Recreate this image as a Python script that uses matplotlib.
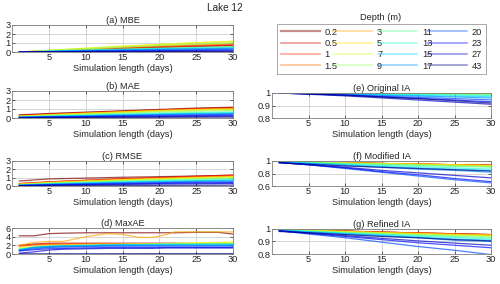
import numpy as np
import matplotlib
matplotlib.use('Agg')
import matplotlib.pyplot as plt
from matplotlib.lines import Line2D

plt.rcParams['font.family'] = ['Liberation Sans', 'DejaVu Sans']
plt.rcParams['font.size'] = 6.7

depths = ['0.2', '0.5', '1', '1.5', '3', '5', '7', '9',
          '11', '13', '15', '17', '20', '23', '27', '43']

days = [1, 5, 10, 15, 20, 25, 30]
days_max = [1, 3, 5, 7, 10, 13, 15, 17, 19, 21, 22, 25, 28, 30]

mbe = [
    [0.0, 0.10, 0.25, 0.40, 0.50, 0.60, 0.70],
    [0.0, 0.10, 0.25, 0.40, 0.55, 0.65, 0.75],
    [0.0, 0.12, 0.28, 0.45, 0.60, 0.70, 0.80],
    [0.0, 0.13, 0.30, 0.50, 0.65, 0.78, 0.90],
    [0.0, 0.15, 0.35, 0.55, 0.72, 0.88, 1.00],
    [0.0, 0.18, 0.42, 0.65, 0.85, 1.05, 1.20],
    [0.0, 0.18, 0.40, 0.62, 0.82, 1.00, 1.15],
    [0.0, 0.15, 0.35, 0.55, 0.72, 0.88, 1.00],
    [0.0, 0.10, 0.22, 0.33, 0.43, 0.52, 0.60],
    [0.0, 0.08, 0.18, 0.28, 0.37, 0.44, 0.50],
    [0.0, 0.07, 0.16, 0.25, 0.33, 0.40, 0.45],
    [0.0, 0.06, 0.14, 0.22, 0.29, 0.35, 0.40],
    [0.0, 0.05, 0.10, 0.16, 0.21, 0.26, 0.30],
    [0.0, 0.03, 0.07, 0.10, 0.14, 0.17, 0.20],
    [0.0, 0.02, 0.04, 0.05, 0.07, 0.09, 0.10],
    [0.0, 0.01, 0.02, 0.03, 0.04, 0.04, 0.05],
]

mae = [
    [0.35, 0.50, 0.65, 0.80, 0.95, 1.10, 1.20],
    [0.30, 0.45, 0.60, 0.75, 0.90, 1.05, 1.15],
    [0.25, 0.40, 0.57, 0.72, 0.87, 1.00, 1.10],
    [0.22, 0.38, 0.55, 0.70, 0.85, 0.97, 1.05],
    [0.20, 0.35, 0.52, 0.67, 0.82, 0.93, 1.00],
    [0.20, 0.35, 0.52, 0.67, 0.82, 0.93, 1.00],
    [0.18, 0.32, 0.48, 0.62, 0.76, 0.87, 0.95],
    [0.15, 0.28, 0.42, 0.55, 0.67, 0.77, 0.85],
    [0.12, 0.22, 0.34, 0.45, 0.55, 0.63, 0.70],
    [0.10, 0.19, 0.29, 0.38, 0.47, 0.54, 0.60],
    [0.10, 0.17, 0.26, 0.35, 0.43, 0.50, 0.55],
    [0.08, 0.15, 0.23, 0.31, 0.38, 0.45, 0.50],
    [0.06, 0.12, 0.18, 0.25, 0.31, 0.36, 0.40],
    [0.05, 0.09, 0.14, 0.19, 0.23, 0.27, 0.30],
    [0.03, 0.06, 0.09, 0.12, 0.15, 0.18, 0.20],
    [0.02, 0.03, 0.05, 0.06, 0.08, 0.09, 0.10],
]

rmse = [
    [0.60, 0.85, 0.95, 1.05, 1.12, 1.20, 1.30],
    [0.30, 0.50, 0.70, 0.88, 1.02, 1.17, 1.30],
    [0.28, 0.48, 0.67, 0.85, 0.98, 1.12, 1.25],
    [0.25, 0.45, 0.64, 0.81, 0.95, 1.08, 1.20],
    [0.22, 0.42, 0.60, 0.77, 0.90, 1.03, 1.15],
    [0.20, 0.40, 0.58, 0.74, 0.87, 0.99, 1.10],
    [0.18, 0.37, 0.55, 0.70, 0.83, 0.95, 1.05],
    [0.15, 0.33, 0.49, 0.63, 0.75, 0.86, 0.95],
    [0.13, 0.29, 0.43, 0.56, 0.67, 0.77, 0.85],
    [0.12, 0.26, 0.38, 0.50, 0.60, 0.68, 0.75],
    [0.10, 0.23, 0.35, 0.46, 0.55, 0.63, 0.70],
    [0.08, 0.20, 0.30, 0.40, 0.48, 0.55, 0.60],
    [0.07, 0.16, 0.25, 0.33, 0.40, 0.46, 0.50],
    [0.05, 0.12, 0.20, 0.26, 0.32, 0.37, 0.40],
    [0.04, 0.09, 0.14, 0.19, 0.24, 0.27, 0.30],
    [0.02, 0.03, 0.05, 0.06, 0.08, 0.09, 0.10],
]

maxae = [
    [4.2, 4.2, 4.7, 4.8, 4.9, 4.9, 4.9, 4.9, 4.9, 4.9, 4.9, 5.0, 5.0, 4.6],
    [2.0, 2.3, 2.5, 2.5, 2.5, 2.5, 2.5, 2.5, 2.5, 2.5, 2.5, 2.4, 2.4, 2.4],
    [1.9, 2.2, 2.3, 2.3, 2.4, 2.4, 2.3, 2.3, 2.3, 2.3, 2.3, 2.3, 2.3, 2.3],
    [1.8, 2.1, 2.2, 2.2, 2.3, 2.3, 2.3, 2.3, 2.3, 2.3, 2.3, 2.3, 2.3, 2.3],
    [2.0, 2.7, 2.9, 2.9, 4.0, 4.7, 4.5, 3.9, 3.8, 4.5, 5.1, 5.1, 5.1, 5.1],
    [1.5, 1.8, 2.0, 2.1, 2.2, 2.3, 2.3, 2.4, 2.4, 2.4, 2.5, 2.6, 2.7, 2.7],
    [1.3, 1.6, 1.8, 1.9, 2.0, 2.1, 2.2, 2.2, 2.3, 2.3, 2.4, 2.5, 2.6, 2.7],
    [1.2, 1.5, 1.7, 1.8, 1.9, 2.0, 2.1, 2.1, 2.2, 2.2, 2.3, 2.3, 2.4, 2.4],
    [1.1, 1.5, 1.7, 1.9, 2.0, 2.1, 2.1, 2.2, 2.2, 2.3, 2.3, 2.3, 2.3, 2.3],
    [1.0, 1.4, 1.6, 1.8, 1.9, 2.0, 2.1, 2.1, 2.2, 2.2, 2.2, 2.2, 2.2, 2.2],
    [1.0, 1.6, 1.8, 1.9, 2.0, 2.1, 2.2, 2.2, 2.2, 2.2, 2.2, 2.2, 2.2, 2.2],
    [0.9, 1.5, 1.7, 1.8, 1.9, 2.0, 2.0, 2.0, 2.0, 2.0, 2.0, 2.0, 2.0, 2.0],
    [0.8, 1.2, 1.5, 1.6, 1.7, 1.8, 1.8, 1.8, 1.8, 1.8, 1.8, 1.8, 1.8, 1.8],
    [0.7, 1.0, 1.2, 1.3, 1.4, 1.5, 1.5, 1.5, 1.5, 1.5, 1.5, 1.5, 1.5, 1.5],
    [0.2, 0.5, 0.9, 1.1, 1.2, 1.3, 1.3, 1.3, 1.3, 1.4, 1.4, 1.4, 1.4, 1.4],
    [0.05, 0.05, 0.05, 0.06, 0.06, 0.07, 0.07, 0.07, 0.08, 0.08, 0.08, 0.08, 0.08, 0.08],
]

ia_orig = [
    [1.0, 1.0, 1.0, 1.0, 1.0, 0.999, 0.999],
    [1.0, 1.0, 1.0, 0.999, 0.999, 0.998, 0.998],
    [1.0, 1.0, 0.999, 0.999, 0.998, 0.998, 0.997],
    [1.0, 1.0, 0.999, 0.999, 0.998, 0.997, 0.996],
    [1.0, 1.0, 0.999, 0.998, 0.997, 0.996, 0.995],
    [1.0, 0.999, 0.999, 0.998, 0.997, 0.996, 0.995],
    [1.0, 0.999, 0.998, 0.997, 0.996, 0.995, 0.994],
    [1.0, 0.999, 0.997, 0.996, 0.994, 0.992, 0.990],
    [1.0, 0.998, 0.996, 0.993, 0.990, 0.988, 0.985],
    [1.0, 0.997, 0.994, 0.990, 0.987, 0.983, 0.980],
    [1.0, 0.996, 0.991, 0.986, 0.981, 0.975, 0.970],
    [1.0, 0.995, 0.989, 0.982, 0.975, 0.968, 0.960],
    [1.0, 0.993, 0.985, 0.975, 0.965, 0.955, 0.945],
    [1.0, 0.992, 0.982, 0.970, 0.957, 0.944, 0.930],
    [1.0, 0.990, 0.977, 0.961, 0.944, 0.927, 0.910],
    [1.0, 0.993, 0.983, 0.968, 0.955, 0.938, 0.920],
]

ia_mod = [
    [0.99, 0.98, 0.97, 0.96, 0.95, 0.94, 0.93],
    [0.99, 0.98, 0.97, 0.96, 0.95, 0.94, 0.935],
    [0.99, 0.98, 0.97, 0.96, 0.95, 0.94, 0.93],
    [0.99, 0.98, 0.97, 0.96, 0.95, 0.94, 0.93],
    [0.99, 0.98, 0.97, 0.96, 0.95, 0.94, 0.93],
    [0.99, 0.98, 0.97, 0.96, 0.95, 0.94, 0.925],
    [0.99, 0.98, 0.965, 0.955, 0.945, 0.93, 0.92],
    [0.99, 0.975, 0.96, 0.95, 0.935, 0.92, 0.91],
    [0.99, 0.975, 0.96, 0.945, 0.93, 0.915, 0.90],
    [0.985, 0.97, 0.95, 0.93, 0.91, 0.89, 0.87],
    [0.985, 0.965, 0.94, 0.915, 0.89, 0.87, 0.85],
    [0.98, 0.96, 0.93, 0.90, 0.87, 0.85, 0.82],
    [0.975, 0.94, 0.88, 0.82, 0.76, 0.70, 0.65],
    [0.975, 0.94, 0.89, 0.83, 0.78, 0.72, 0.67],
    [0.975, 0.94, 0.90, 0.85, 0.81, 0.77, 0.73],
    [0.97, 0.95, 0.92, 0.90, 0.88, 0.86, 0.84],
]

ia_ref = [
    [0.995, 0.99, 0.983, 0.975, 0.968, 0.962, 0.955],
    [0.995, 0.99, 0.983, 0.975, 0.968, 0.962, 0.955],
    [0.995, 0.99, 0.983, 0.975, 0.968, 0.961, 0.955],
    [0.995, 0.989, 0.982, 0.974, 0.967, 0.960, 0.954],
    [0.995, 0.989, 0.981, 0.973, 0.966, 0.958, 0.952],
    [0.995, 0.988, 0.980, 0.970, 0.963, 0.955, 0.950],
    [0.995, 0.987, 0.977, 0.968, 0.960, 0.952, 0.945],
    [0.995, 0.985, 0.975, 0.965, 0.955, 0.945, 0.940],
    [0.995, 0.982, 0.970, 0.960, 0.950, 0.940, 0.930],
    [0.99, 0.980, 0.967, 0.955, 0.943, 0.932, 0.920],
    [0.99, 0.978, 0.963, 0.950, 0.935, 0.920, 0.910],
    [0.99, 0.975, 0.960, 0.945, 0.930, 0.910, 0.900],
    [0.985, 0.960, 0.930, 0.895, 0.860, 0.830, 0.795],
    [0.985, 0.965, 0.940, 0.915, 0.890, 0.870, 0.850],
    [0.985, 0.968, 0.947, 0.925, 0.905, 0.887, 0.870],
    [0.98, 0.970, 0.955, 0.940, 0.930, 0.915, 0.905],
]

colors = plt.cm.jet(np.linspace(1, 0, len(depths)))

fig = plt.figure(figsize=(5.0, 2.84), dpi=100)


def make_axes(rect, x, series, title, ylim, yticks, yticklabels):
    ax = fig.add_axes(rect)
    for i, ys in enumerate(series):
        ax.plot(x, ys, color=colors[i], lw=0.9, alpha=0.7)
    ax.set_xlim(0, 30)
    ax.set_ylim(*ylim)
    ax.set_xticks([5, 10, 15, 20, 25, 30])
    ax.set_yticks(yticks)
    ax.set_yticklabels(yticklabels)
    ax.grid(True, color='#d0d0d0', lw=0.6)
    ax.set_axisbelow(True)
    ax.tick_params(direction='in', top=True, right=True, length=2, pad=1,
                   colors='#262626', labelsize=6.7, width=0.5)
    for s in ax.spines.values():
        s.set_color('#808080')
        s.set_linewidth(0.6)
    ax.set_title(title, pad=1.5, fontsize=6.7, color='#262626')
    ax.set_xlabel('Simulation length (days)', labelpad=1, fontsize=6.7, color='#262626')
    return ax


W = 284.0
left_l, wid_l = 12 / 500, 221 / 500
left_r, wid_r = 272 / 500, 219 / 500

make_axes([left_l, 1 - 52 / W, wid_l, 27 / W], days, mbe, '(a) MBE',
          (0, 3), [0, 1, 2, 3], ['0', '1', '2', '3'])
make_axes([left_l, 1 - 118 / W, wid_l, 27 / W], days, mae, '(b) MAE',
          (0, 3), [0, 1, 2, 3], ['0', '1', '2', '3'])
make_axes([left_l, 1 - 186 / W, wid_l, 25 / W], days, rmse, '(c) RMSE',
          (0, 3), [0, 1, 2, 3], ['0', '1', '2', '3'])
make_axes([left_l, 1 - 254 / W, wid_l, 26 / W], days_max, maxae, '(d) MaxAE',
          (0, 6), [0, 2, 4, 6], ['0', '2', '4', '6'])
make_axes([left_r, 1 - 118 / W, wid_r, 25 / W], days, ia_orig, '(e) Original IA',
          (0.8, 1), [0.8, 0.9, 1], ['0.8', '0.9', '1'])
make_axes([left_r, 1 - 186 / W, wid_r, 25 / W], days, ia_mod, '(f) Modified IA',
          (0.6, 1), [0.6, 0.8, 1], ['0.6', '0.8', '1'])
make_axes([left_r, 1 - 254 / W, wid_r, 25 / W], days, ia_ref, '(g) Refined IA',
          (0.8, 1), [0.8, 0.9, 1], ['0.8', '0.9', '1'])

# legend with pale handles, title sits above the box
handles = [Line2D([], [], color=colors[i], lw=1.6 if i == 0 else 1.1, alpha=0.45)
           for i in range(len(depths))]
leg = fig.legend(handles, depths, ncol=4, loc='upper left',
                 bbox_to_anchor=(277 / 500, 1 - 68 / W, 209 / 500, 44 / W),
                 mode='expand', frameon=True, fancybox=False, fontsize=6.7,
                 handlelength=4.2, handletextpad=0.5, columnspacing=0.6,
                 labelspacing=0.25, borderpad=0.4, borderaxespad=0.0,
                 markerfirst=True)
leg.get_frame().set_edgecolor('#808080')
leg.get_frame().set_linewidth(0.6)
for t in leg.get_texts():
    t.set_color('#262626')

fig.text(381 / 500, 1 - 17 / W, 'Depth (m)', ha='center', va='center',
         fontsize=6.7, color='#262626')
fig.text(225 / 500, 1 - 8 / W, 'Lake 12', ha='center', va='center',
         fontsize=7.2, color='#262626')

fig.savefig('out.png', dpi=100)
